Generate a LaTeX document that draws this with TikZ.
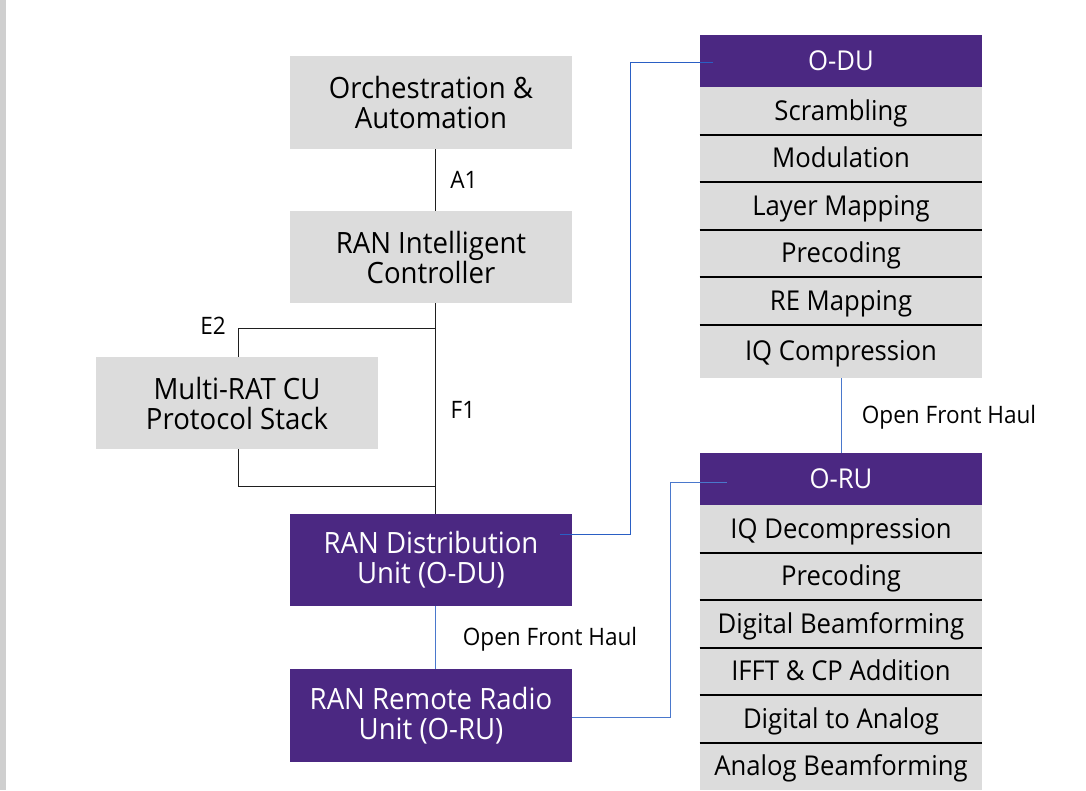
\documentclass[tikz,border=0pt]{standalone}
\usepackage{fontspec}
\setmainfont{Open Sans}[FakeStretch=0.94]
\usetikzlibrary{calc}
\newdimen\px \px=0.75pt
\definecolor{boxgray}{HTML}{DCDCDC}
\definecolor{ranpurple}{HTML}{4B2882}
\definecolor{linkblue}{HTML}{2A5FC4}
\definecolor{linkblue2}{HTML}{4A78CC}
\definecolor{bargray}{HTML}{CFCFCF}
\begin{document}
\begin{tikzpicture}[x=0.75pt,y=-0.75pt,
  block/.style={fill=boxgray, minimum width=282\px, minimum height=92\px, inner sep=0pt, align=center, font=\fontsize{22}{22.5}\selectfont},
  unit/.style={block, fill=ranpurple, text=white},
  head/.style={fill=ranpurple, text=white, minimum width=282\px, minimum height=52\px, inner sep=0pt, text height=14.6pt, text depth=0pt, font=\fontsize{20.5}{22}\selectfont},
  stage/.style={fill=boxgray, minimum width=282\px, minimum height=47.5\px, inner sep=0pt, text height=14.6pt, text depth=0pt, font=\fontsize{20.5}{22}\selectfont},
  tree/.style={draw=black!88, line width=1\px},
  link/.style={draw=linkblue, line width=1\px},
  link2/.style={draw=linkblue2, line width=1\px},
  sep/.style={draw=black, line width=2\px},
  lbl/.style={font=\fontsize{18}{20}\selectfont, inner sep=0pt, text height=12.9pt, text depth=0pt}
]
\useasboundingbox (0,0) rectangle (1086,790);
\fill[white] (0,0) rectangle (1086,790);
\fill[bargray] (0,0) rectangle (6,790);

% left-hand stack
\node[block, minimum height=93\px] (orch) at (431,102.5) {Orchestration \&\\Automation};
\node[block] (ric) at (431,257) {RAN Intelligent\\Controller};
\node[block] (cu) at (237,403) {Multi-RAT CU\\Protocol Stack};
\node[unit] (du) at (431,560) {RAN Distribution\\Unit (O-DU)};
\node[unit, minimum height=93\px] (ru) at (431,715.5) {RAN Remote Radio\\Unit (O-RU)};

% O-DU processing chain
\node[head] (odu) at (841,61) {O-DU};
\node[stage] (odu1) at (841,110.75) {Scrambling};
\node[stage] (odu2) at (841,158.25) {Modulation};
\node[stage] (odu3) at (841,205.75) {Layer Mapping};
\node[stage] (odu4) at (841,253.25) {Precoding};
\node[stage] (odu5) at (841,300.75) {RE Mapping};
\node[stage, minimum height=53.5\px] (odu6) at (841,351.25) {IQ Compression};
\foreach \r in {1,...,5}
  \draw[sep] (odu\r.south west) -- (odu\r.south east);

% O-RU processing chain
\node[head] (oru) at (841,479) {O-RU};
\node[stage] (oru1) at (841,528.75) {IQ Decompression};
\node[stage] (oru2) at (841,576.25) {Precoding};
\node[stage] (oru3) at (841,623.75) {Digital Beamforming};
\node[stage] (oru4) at (841,671.25) {IFFT \& CP Addition};
\node[stage] (oru5) at (841,718.75) {Digital to Analog};
\node[stage] (oru6) at (841,766.25) {Analog Beamforming};
\foreach \r in {1,...,5}
  \draw[sep] (oru\r.south west) -- (oru\r.south east);

% interfaces of the left-hand stack
\coordinate (trunk) at (435,0);
\coordinate (e2) at (238,328);
\coordinate (f1) at (238,486);
\draw[tree] (orch.south -| trunk) -- (ric.north -| trunk);
\draw[tree] (ric.south -| trunk) -- (du.north -| trunk);
\draw[tree] (cu.north -| e2) -- (e2) -- (e2 -| trunk);
\draw[tree] (cu.south -| f1) -- (f1) -- (f1 -| trunk);

% front haul and detail links
\coordinate (duend) at ($(odu.north west)+(13,28)$);
\coordinate (ruend) at ($(oru.north west)+(27,30)$);
\draw[link] ($(du.north east)+(-12,21)$) -- ++(70,0) |- (duend);
\draw[link2] ($(ru.north east)+(0,49)$) -- ++(98,0) |- (ruend);
\draw[link2] (du.south -| trunk) -- (ru.north -| trunk);
\draw[link2] (odu6.south) -- (oru.north);

% labels
\node[lbl] (a1) at (464,180) {A1};
\node[lbl] (e2l) at (213,326) {E2};
\node[lbl] (f1l) at (463,410) {F1};
\node[lbl] (fh1) at (550,637) {Open Front Haul};
\node[lbl] (fh2) at (949,415) {Open Front Haul};
\end{tikzpicture}
\end{document}
